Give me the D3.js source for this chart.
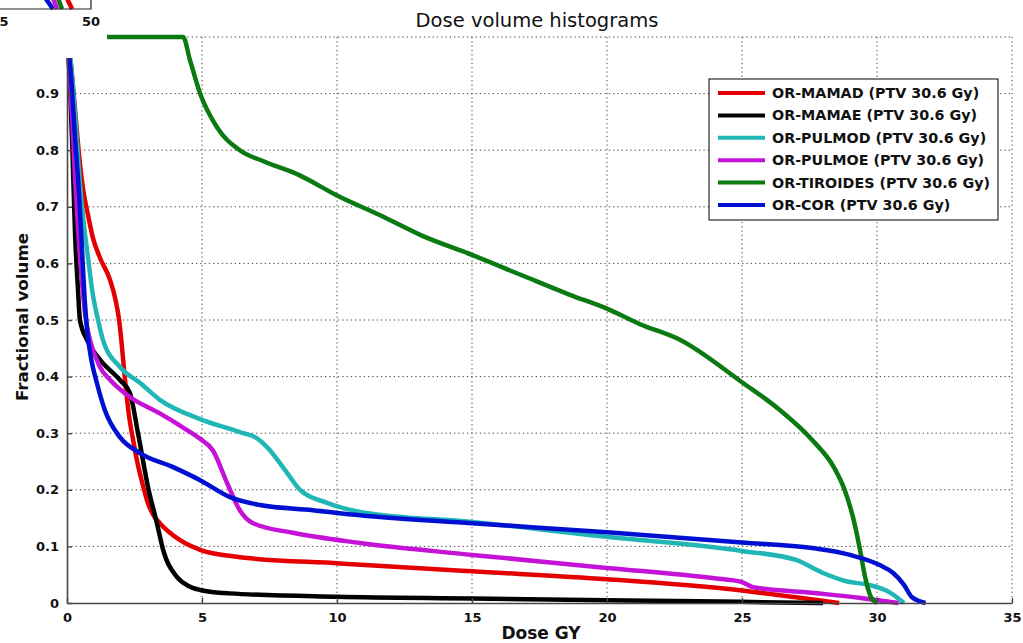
<!DOCTYPE html>
<html>
<head>
<meta charset="utf-8">
<script src="https://cdn.jsdelivr.net/npm/d3@7"></script>
<style>
	body { margin: 0; background: #fff; }
	svg { display: block; }
	text { font-family: "DejaVu Sans", Verdana, sans-serif; }
</style>
</head>
<body>
<div id="graphic"></div>
<script>
// ---- data: dose (Gy) and fractional volume per structure ----
const xTicks = [0, 5, 10, 15, 20, 25, 30, 35];
const yTicks = [0, 0.1, 0.2, 0.3, 0.4, 0.5, 0.6, 0.7, 0.8, 0.9];
const yGrid = [0.1, 0.2, 0.3, 0.4, 0.5, 0.6, 0.7, 0.8, 0.9, 1];

const mamadDose = [0, 0.15, 0.3, 0.45, 0.6, 0.78, 0.96, 1.22, 1.6, 1.8, 1.93, 2.0, 2.15, 2.3, 2.45, 2.6, 2.8, 2.96, 3.2, 3.44, 4.19, 4.93, 6.4, 10.1, 15, 20, 25, 27, 28.6];
const mamadVol = [1, 0.95, 0.87, 0.79, 0.73, 0.685, 0.645, 0.61, 0.57, 0.535, 0.5, 0.47, 0.394, 0.33, 0.288, 0.25, 0.21, 0.182, 0.155, 0.141, 0.111, 0.094, 0.081, 0.07, 0.056, 0.042, 0.022, 0.01, 0];

const mamaeDose = [0, 0.1, 0.2, 0.3, 0.4, 0.48, 0.74, 1.22, 1.96, 2.33, 2.63, 3.0, 3.33, 3.56, 4.07, 4.5, 4.93, 6, 10, 15, 20, 25, 28];
const mamaeVol = [1, 0.93, 0.8, 0.65, 0.56, 0.5, 0.465, 0.43, 0.394, 0.371, 0.3, 0.205, 0.141, 0.094, 0.046, 0.03, 0.023, 0.017, 0.011, 0.008, 0.005, 0.002, 0];

const pulmodDose = [0, 0.15, 0.3, 0.45, 0.6, 0.78, 0.93, 1.15, 1.33, 1.96, 2.7, 3.44, 4.93, 6.4, 7.0, 7.4, 8.15, 8.63, 9.63, 10.85, 15, 20, 25, 27, 28, 28.9, 29.7, 30.5, 31];
const pulmodVol = [1, 0.95, 0.86, 0.76, 0.68, 0.61, 0.553, 0.5, 0.465, 0.417, 0.389, 0.359, 0.325, 0.302, 0.292, 0.276, 0.23, 0.2, 0.177, 0.161, 0.143, 0.117, 0.092, 0.076, 0.053, 0.038, 0.032, 0.018, 0];

const pulmoeDose = [0, 0.1, 0.2, 0.3, 0.5, 0.7, 0.85, 1.22, 1.6, 2.33, 3.44, 4.3, 4.93, 5.4, 5.93, 6.4, 6.89, 8.37, 10.85, 15, 20, 23.9, 25, 25.4, 27.6, 29.4, 30.8];
const pulmoeVol = [1, 0.93, 0.85, 0.75, 0.6, 0.5, 0.465, 0.417, 0.394, 0.364, 0.335, 0.31, 0.29, 0.27, 0.212, 0.164, 0.141, 0.124, 0.106, 0.085, 0.062, 0.044, 0.037, 0.028, 0.018, 0.009, 0];

const tiroidesDose = [0, 4.3, 4.55, 4.93, 5.56, 6.4, 7.3, 8.6, 10, 11.6, 13.1, 15, 16.8, 18.6, 20, 21.2, 22.7, 25, 26.4, 27.6, 28.4, 28.8, 29.2, 29.37, 29.56, 29.78, 30.0];
const tiroidesVol = [1, 1, 0.96, 0.9, 0.84, 0.8, 0.78, 0.756, 0.72, 0.685, 0.65, 0.615, 0.58, 0.545, 0.52, 0.493, 0.465, 0.39, 0.341, 0.288, 0.24, 0.2, 0.134, 0.094, 0.046, 0.01, 0];

const corDose = [0, 0.15, 0.3, 0.45, 0.55, 0.65, 0.75, 0.9, 1.1, 1.4, 1.96, 2.7, 3.93, 4.93, 6.04, 7.15, 9.1, 10.85, 15, 20, 25, 27.6, 29, 30.1, 30.6, 31, 31.3, 31.8];
const corVol = [1, 0.93, 0.82, 0.72, 0.63, 0.54, 0.48, 0.43, 0.39, 0.341, 0.293, 0.265, 0.24, 0.217, 0.187, 0.173, 0.164, 0.155, 0.141, 0.125, 0.107, 0.097, 0.085, 0.067, 0.053, 0.032, 0.01, 0];

const seriesNames = ['OR-MAMAD (PTV 30.6 Gy)', 'OR-MAMAE (PTV 30.6 Gy)', 'OR-PULMOD (PTV 30.6 Gy)', 'OR-PULMOE (PTV 30.6 Gy)', 'OR-TIROIDES (PTV 30.6 Gy)', 'OR-COR (PTV 30.6 Gy)'];
const seriesColours = ['#e40000', '#000000', '#20b6b6', '#c412d6', '#0b7a12', '#0010d2'];

// fragments of the clipped inset figure in the top-left corner
const insetTicks = [5, 50];
const insetFrom = [23.6, 28.8, 31.4, 35.5];
const insetTo = [30.3, 32.4, 35.0, 40.2];
const insetColours = ['#0010d2', '#c412d6', '#0b7a12', '#e40000'];

// ---- layout ----
const width = 1023, height = 643;
const margin = { top: 37, right: 11, bottom: 40, left: 67 };
const chartWidth = width - margin.left - margin.right;
const chartHeight = height - margin.top - margin.bottom;

const svg = d3.select('#graphic').append('svg')
	.attr('width', width)
	.attr('height', height);

const g = svg.append('g')
	.attr('transform', `translate(${margin.left},${margin.top})`);

const x = d3.scaleLinear().domain([0, 35]).range([0, chartWidth]);
const y = d3.scaleLinear().domain([0, 1]).range([chartHeight, 0]);

// dotted grid
g.append('g').selectAll('line')
	.data(yGrid)
	.join('line')
	.attr('x1', 0).attr('x2', chartWidth)
	.attr('y1', d => y(d)).attr('y2', d => y(d))
	.attr('stroke', '#444').attr('stroke-width', 1)
	.attr('stroke-dasharray', '1.3,3');

g.append('g').selectAll('line')
	.data(xTicks.slice(1))
	.join('line')
	.attr('x1', d => x(d)).attr('x2', d => x(d))
	.attr('y1', 0).attr('y2', chartHeight)
	.attr('stroke', '#444').attr('stroke-width', 1)
	.attr('stroke-dasharray', '1.3,3');

// curves
const series = [
	[mamadDose, mamadVol],
	[mamaeDose, mamaeVol],
	[pulmodDose, pulmodVol],
	[pulmoeDose, pulmoeVol],
	[tiroidesDose, tiroidesVol],
	[corDose, corVol]
].map(([dose, vol]) => dose.map((d, i) => [d, vol[i]]));

const line = d3.line()
	.x(d => x(d[0]))
	.y(d => y(d[1]))
	.curve(d3.curveMonotoneX);

g.append('g').selectAll('path')
	.data(series)
	.join('path')
	.attr('d', line)
	.attr('fill', 'none')
	.attr('stroke', (d, i) => seriesColours[i])
	.attr('stroke-width', 4.5)
	.attr('stroke-linejoin', 'round');

// axes (matlab style: inward ticks, no box)
const xAxis = d3.axisBottom(x).tickValues(xTicks).tickSizeInner(-5).tickSizeOuter(0).tickPadding(10)
	.tickFormat(d3.format('d'));
const yAxis = d3.axisLeft(y).tickValues(yTicks).tickSizeInner(-5).tickSizeOuter(0).tickPadding(8)
	.tickFormat(d => d === 0 ? '0' : d3.format('.1f')(d));

const xg = g.append('g').attr('transform', `translate(0,${chartHeight})`).call(xAxis);
const yg = g.append('g').call(yAxis);

[xg, yg].forEach(a => {
	a.select('.domain').attr('stroke', '#474747').attr('stroke-width', 1.6);
	a.selectAll('.tick line').attr('stroke', '#474747').attr('stroke-width', 1.4);
	a.selectAll('.tick text')
		.attr('fill', '#111')
		.style('font-family', '"DejaVu Sans", Verdana, sans-serif')
		.style('font-size', '13px')
		.style('font-weight', 'bold');
});

// legend
const legend = g.append('g').attr('transform', `translate(${x(0) + 642},${42})`);
legend.append('rect')
	.attr('width', 289).attr('height', 141)
	.attr('fill', '#fff').attr('stroke', '#000').attr('stroke-width', 1);

const legendItem = legend.selectAll('g.item')
	.data(seriesNames)
	.join('g')
	.attr('class', 'item')
	.attr('transform', (d, i) => `translate(0,${14 + i * 22.4})`);

legendItem.append('line')
	.attr('x1', 9).attr('x2', 56)
	.attr('stroke', (d, i) => seriesColours[i])
	.attr('stroke-width', 4);

legendItem.append('text')
	.attr('x', 63).attr('y', 5)
	.style('font-size', '14.3px').style('font-weight', 'bold')
	.attr('fill', '#111')
	.text(d => d);

// titles
svg.append('text')
	.attr('x', 537).attr('y', 27)
	.attr('text-anchor', 'middle')
	.style('font-size', '19.5px')
	.attr('fill', '#111')
	.text('Dose volume histograms');

svg.append('text')
	.attr('x', 541).attr('y', 639)
	.attr('text-anchor', 'middle')
	.style('font-size', '17px').style('font-weight', 'bold')
	.attr('fill', '#111')
	.text('Dose GY');

svg.append('text')
	.attr('transform', `translate(28,317) rotate(-90)`)
	.attr('text-anchor', 'middle')
	.style('font-size', '16.7px').style('font-weight', 'bold')
	.attr('fill', '#111')
	.text('Fractional volume');

// white background of the clipped inset figure covering the corner
svg.append('rect')
	.attr('x', 0).attr('y', 0)
	.attr('width', 107).attr('height', 58)
	.attr('fill', '#fff');

const ix = d3.scaleLinear().domain([5, 50]).range([4, 91]);
const iy = d3.scaleLinear().domain([0, 1]).range([9, -10]);

const inset = svg.append('g');
inset.selectAll('line.frag')
	.data(insetFrom)
	.join('line')
	.attr('class', 'frag')
	.attr('x1', d => ix(d)).attr('y1', iy(1))
	.attr('x2', (d, i) => ix(insetTo[i])).attr('y2', iy(0))
	.attr('stroke', (d, i) => insetColours[i])
	.attr('stroke-width', 4.5);

inset.append('path')
	.attr('d', `M0,${iy(0)}H${ix(50)}V-1`)
	.attr('fill', 'none').attr('stroke', '#222').attr('stroke-width', 1.2);

inset.selectAll('text')
	.data(insetTicks)
	.join('text')
	.attr('x', d => ix(d)).attr('y', 26)
	.attr('text-anchor', 'middle')
	.style('font-size', '13px').style('font-weight', 'bold')
	.attr('fill', '#111')
	.text(d => d);
</script>
</body>
</html>
